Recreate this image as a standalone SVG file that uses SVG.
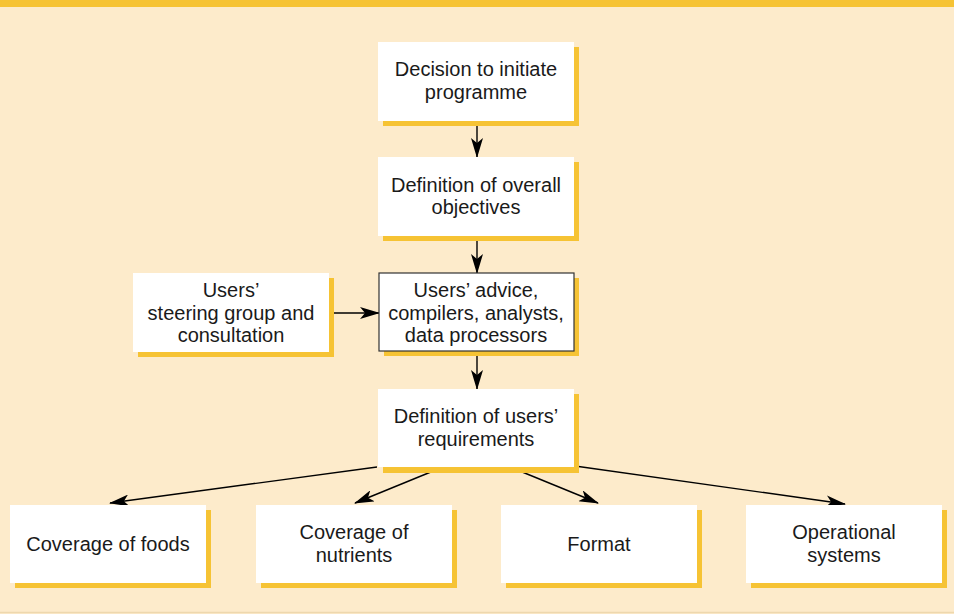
<svg xmlns="http://www.w3.org/2000/svg" width="954" height="614" viewBox="0 0 954 614">
<style>
.sh{fill:#F6C334}
.bx{fill:#FFFFFF}
.bd{fill:#FFFFFF;stroke:#333333;stroke-width:1.2}
.t{font-family:"Liberation Sans",Arial,Helvetica,sans-serif;font-size:20px;fill:#1a1a1a;text-anchor:middle}
.c{stroke:#000;stroke-width:1.4;fill:none;marker-end:url(#ah)}
</style>
<defs>
<marker id="ah" viewBox="0 0 20 12" refX="19" refY="6" markerWidth="20" markerHeight="12" markerUnits="userSpaceOnUse" orient="auto">
<path d="M0,0 L20,6 L0,12 L5,6 z" fill="#000"/>
</marker>
</defs>
<rect x="0" y="0" width="954" height="614" fill="#FDEBCB"/>
<rect x="0" y="0" width="954" height="7" fill="#F6C334"/>
<line x1="0" y1="612.5" x2="954" y2="612.5" stroke="#EED8AE" stroke-width="1.5"/>

<g id="connectors">
<line class="c" x1="477" y1="121" x2="477" y2="157"/>
<line class="c" x1="477" y1="236" x2="477" y2="273"/>
<line class="c" x1="329" y1="313" x2="379" y2="313"/>
<line class="c" x1="477" y1="351" x2="477" y2="389"/>
<line class="c" x1="377" y1="467" x2="110" y2="503"/>
<line class="c" x1="443" y1="467" x2="355" y2="503"/>
<line class="c" x1="510" y1="467" x2="598" y2="503"/>
<line class="c" x1="575" y1="466" x2="845" y2="504"/>
</g>

<g id="n1">
<rect class="sh" x="383" y="47" width="196" height="79"/>
<rect class="bx" x="378" y="42" width="196" height="79"/>
<text class="t" x="476" y="76">Decision to initiate</text>
<text class="t" x="476" y="98.5">programme</text>
</g>

<g id="n2">
<rect class="sh" x="383" y="162" width="196" height="79"/>
<rect class="bx" x="378" y="157" width="196" height="79"/>
<text class="t" x="476" y="191.5">Definition of overall</text>
<text class="t" x="476" y="214">objectives</text>
</g>

<g id="n3">
<rect class="sh" x="384" y="278" width="195" height="78"/>
<rect class="bd" x="379" y="273" width="195" height="78"/>
<text class="t" x="476" y="297">Users’ advice,</text>
<text class="t" x="476" y="319.5">compilers, analysts,</text>
<text class="t" x="476" y="342">data processors</text>
</g>

<g id="n4">
<rect class="sh" x="138" y="278" width="196" height="79"/>
<rect class="bx" x="133" y="273" width="196" height="79"/>
<text class="t" x="231" y="297">Users’</text>
<text class="t" x="231" y="319.5">steering group and</text>
<text class="t" x="231" y="342">consultation</text>
</g>

<g id="n5">
<rect class="sh" x="383" y="394" width="196" height="79"/>
<rect class="bx" x="378" y="389" width="196" height="78"/>
<text class="t" x="476" y="423">Definition of users’</text>
<text class="t" x="476" y="445.5">requirements</text>
</g>

<g id="n6">
<rect class="sh" x="15" y="510" width="196" height="78"/>
<rect class="bx" x="10" y="505" width="196" height="78"/>
<text class="t" x="108" y="551">Coverage of foods</text>
</g>

<g id="n7">
<rect class="sh" x="261" y="510" width="196" height="78"/>
<rect class="bx" x="256" y="505" width="196" height="78"/>
<text class="t" x="354" y="539">Coverage of</text>
<text class="t" x="354" y="561.5">nutrients</text>
</g>

<g id="n8">
<rect class="sh" x="506" y="510" width="196" height="78"/>
<rect class="bx" x="501" y="505" width="196" height="78"/>
<text class="t" x="599" y="551">Format</text>
</g>

<g id="n9">
<rect class="sh" x="751" y="510" width="196" height="78"/>
<rect class="bx" x="746" y="505" width="196" height="78"/>
<text class="t" x="844" y="539">Operational</text>
<text class="t" x="844" y="561.5">systems</text>
</g>
</svg>
